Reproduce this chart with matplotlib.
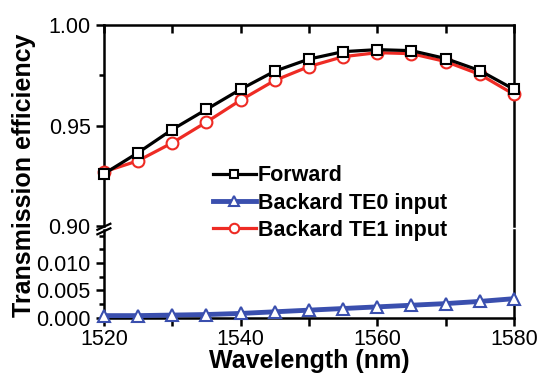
import numpy as np
import matplotlib
matplotlib.use("Agg")
import matplotlib.pyplot as plt
from matplotlib.ticker import MultipleLocator, FormatStrFormatter

plt.rcParams["font.family"] = ["Liberation Sans", "DejaVu Sans"]

# data
wavelength = [1520, 1525, 1530, 1535, 1540, 1545, 1550, 1555, 1560, 1565, 1570, 1575, 1580]
forward = [0.926, 0.9365, 0.948, 0.958, 0.968, 0.977, 0.983, 0.9867, 0.9877, 0.9872, 0.9833, 0.9773, 0.968]
back_te1 = [0.927, 0.9325, 0.9414, 0.9517, 0.9626, 0.9724, 0.9793, 0.9842, 0.9862, 0.9857, 0.9818, 0.9754, 0.9655]
back_te0 = [0.0004, 0.0004, 0.0005, 0.0006, 0.0008, 0.0011, 0.0014, 0.0017, 0.0020, 0.0023, 0.0026, 0.0030, 0.0035]

top_ylim = (0.90, 1.00)
bottom_ylim = (0.0, 0.016)

fig = plt.figure(figsize=(5.41, 3.77), dpi=100)
ax_top = fig.add_axes([0.192, 0.400, 0.758, 0.534])
ax_bot = fig.add_axes([0.192, 0.157, 0.758, 0.232])

style_fwd = dict(color="black", lw=2.3, marker="s", ms=7.5, mfc="white", mew=1.5, mec="black")
style_te0 = dict(color="#3a4fae", lw=3.5, marker="^", ms=9, mfc="white", mew=1.5, mec="#3a4fae")
style_te1 = dict(color="#ee2b24", lw=2.3, marker="o", ms=8.5, mfc="white", mew=1.5, mec="#ee2b24")

for ax in (ax_top, ax_bot):
    l1, = ax.plot(wavelength, forward, label="Forward", zorder=4, clip_on=False, **style_fwd)
    l3, = ax.plot(wavelength, back_te1, label="Backard TE1 input", zorder=3, clip_on=False, **style_te1)
    l2, = ax.plot(wavelength, back_te0, label="Backard TE0 input", zorder=3, clip_on=False, **style_te0)
    ax.set_xlim(1520, 1580)
    ax.xaxis.set_major_locator(MultipleLocator(20))
    ax.xaxis.set_minor_locator(MultipleLocator(10))
    for sp in ax.spines.values():
        sp.set_linewidth(1.8)
    ax.tick_params(which="both", width=1.8, labelsize=15.5)
    ax.tick_params(which="major", length=6)
    ax.tick_params(which="minor", length=3.5)

ax_top.set_ylim(*top_ylim)
ax_top.yaxis.set_major_locator(MultipleLocator(0.05))
ax_top.yaxis.set_minor_locator(MultipleLocator(0.025))
ax_top.yaxis.set_major_formatter(FormatStrFormatter("%.2f"))
ax_top.spines["bottom"].set_visible(False)
ax_top.tick_params(axis="x", which="both", bottom=False, labelbottom=False, top=True, direction="in")
ax_top.tick_params(axis="x", which="minor", length=6)

ax_bot.set_ylim(*bottom_ylim)
ax_bot.yaxis.set_minor_locator(MultipleLocator(0.0025))
ax_bot.yaxis.set_major_formatter(FormatStrFormatter("%.3f"))
ax_bot.set_yticks([0.0, 0.005, 0.010])
ax_bot.spines["top"].set_visible(False)
ax_bot.tick_params(axis="x", which="both", top=False)
ax_bot.tick_params(axis="x", which="minor", length=6)
ax_bot.tick_params(axis="x", which="major", pad=2)
ax_bot.set_xlabel("Wavelength (nm)", fontsize=18, fontweight="bold", labelpad=-1)

# break marks on the left spine
d = 0.012
kw = dict(transform=fig.transFigure, color="black", lw=1.6, clip_on=False)
x0, yb = 0.192, 0.3945
fig.add_artist(plt.Line2D([x0 - d, x0 + d], [yb - 0.004, yb + 0.012], **kw))
fig.add_artist(plt.Line2D([x0 - d, x0 + d], [yb - 0.016, yb + 0.000], **kw))

fig.text(0.045, 0.536, "Transmission efficiency", rotation=90, fontsize=18,
         fontweight="bold", ha="center", va="center")

fig.legend(handles=[l1, l2, l3], loc="upper left", bbox_to_anchor=(0.377, 0.585),
           frameon=False, prop=dict(size=15.5, weight="bold"), handlelength=2.0,
           handletextpad=0.1, labelspacing=0.3, borderaxespad=0, markerscale=0.8)

fig.savefig("out.png", dpi=100)
